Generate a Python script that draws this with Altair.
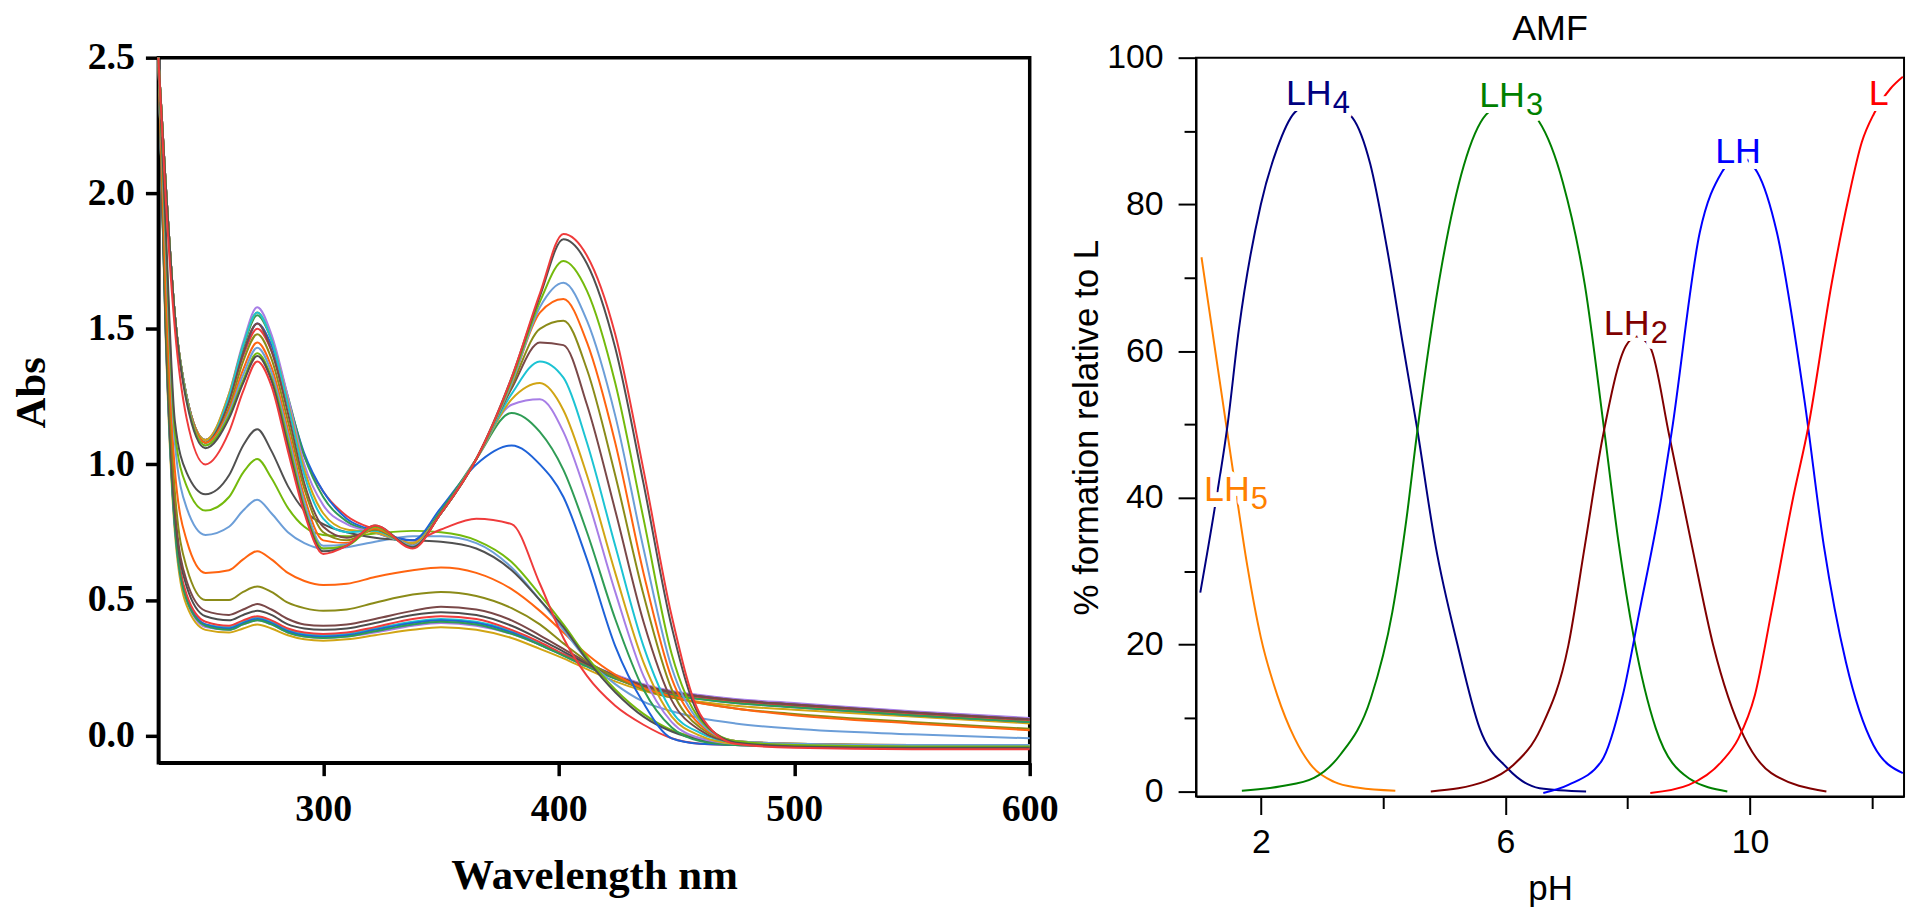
import altair as alt
import pandas as pd

# ---------------- left panel: UV-vis spectra ----------------
wavelength = [230, 233, 237, 242, 250, 260, 266, 272, 278, 285, 292, 300, 310, 322,
              338, 350, 365, 380, 392, 402, 412, 424, 436, 448, 460, 475, 500, 550, 600]

abs_01 = [2.5, 1.5, 0.75, 0.48, 0.39, 0.38, 0.395, 0.41, 0.395, 0.37, 0.355, 0.35, 0.355, 0.37, 0.39, 0.40, 0.39, 0.36, 0.32, 0.285, 0.245, 0.2, 0.165, 0.14, 0.125, 0.11, 0.095, 0.07, 0.045]
abs_02 = [2.5, 1.52, 0.77, 0.5, 0.4, 0.39, 0.41, 0.425, 0.41, 0.38, 0.365, 0.36, 0.365, 0.38, 0.405, 0.415, 0.405, 0.375, 0.335, 0.3, 0.265, 0.225, 0.19, 0.165, 0.15, 0.135, 0.12, 0.09, 0.065]
abs_03 = [2.5, 1.53, 0.78, 0.51, 0.41, 0.40, 0.42, 0.435, 0.42, 0.39, 0.375, 0.37, 0.375, 0.395, 0.42, 0.43, 0.42, 0.385, 0.34, 0.3, 0.26, 0.215, 0.18, 0.155, 0.14, 0.125, 0.11, 0.08, 0.055]
abs_04 = [2.5, 1.53, 0.78, 0.51, 0.41, 0.395, 0.415, 0.43, 0.415, 0.385, 0.37, 0.365, 0.37, 0.39, 0.415, 0.425, 0.415, 0.38, 0.335, 0.295, 0.255, 0.21, 0.175, 0.15, 0.135, 0.12, 0.105, 0.075, 0.05]
abs_05 = [2.5, 1.54, 0.79, 0.52, 0.42, 0.405, 0.425, 0.44, 0.425, 0.395, 0.38, 0.375, 0.38, 0.4, 0.43, 0.44, 0.43, 0.39, 0.345, 0.3, 0.26, 0.215, 0.18, 0.155, 0.14, 0.125, 0.11, 0.08, 0.055]
abs_06 = [2.5, 1.52, 0.77, 0.5, 0.405, 0.39, 0.41, 0.425, 0.41, 0.38, 0.365, 0.36, 0.365, 0.385, 0.41, 0.42, 0.41, 0.375, 0.335, 0.295, 0.255, 0.21, 0.175, 0.15, 0.135, 0.12, 0.105, 0.075, 0.05]
abs_07 = [2.5, 1.56, 0.82, 0.55, 0.44, 0.425, 0.445, 0.46, 0.445, 0.41, 0.395, 0.39, 0.395, 0.415, 0.445, 0.455, 0.445, 0.405, 0.355, 0.31, 0.265, 0.22, 0.185, 0.16, 0.145, 0.13, 0.115, 0.085, 0.06]
abs_08 = [2.5, 1.58, 0.84, 0.57, 0.46, 0.445, 0.465, 0.485, 0.465, 0.43, 0.41, 0.405, 0.41, 0.43, 0.46, 0.475, 0.465, 0.425, 0.37, 0.32, 0.27, 0.22, 0.185, 0.16, 0.145, 0.13, 0.115, 0.085, 0.06]
abs_09 = [2.5, 1.62, 0.9, 0.62, 0.5, 0.5, 0.53, 0.55, 0.53, 0.49, 0.47, 0.46, 0.465, 0.49, 0.52, 0.53, 0.515, 0.47, 0.41, 0.34, 0.275, 0.215, 0.17, 0.14, 0.12, 0.1, 0.08, 0.05, 0.025]
abs_10 = [2.5, 1.7, 0.98, 0.72, 0.6, 0.61, 0.65, 0.68, 0.65, 0.6, 0.57, 0.555, 0.56, 0.585, 0.61, 0.62, 0.6, 0.54, 0.46, 0.38, 0.3, 0.225, 0.175, 0.145, 0.12, 0.1, 0.075, 0.045, 0.02]
abs_11 = [2.5, 1.82, 1.08, 0.84, 0.74, 0.77, 0.83, 0.87, 0.82, 0.75, 0.71, 0.69, 0.695, 0.715, 0.735, 0.735, 0.71, 0.62, 0.5, 0.39, 0.28, 0.19, 0.125, 0.09, 0.065, 0.045, 0.025, 0.005, -0.01]
abs_12 = [2.5, 1.86, 1.12, 0.92, 0.83, 0.88, 0.97, 1.02, 0.95, 0.84, 0.77, 0.74, 0.735, 0.745, 0.755, 0.75, 0.72, 0.64, 0.52, 0.41, 0.29, 0.17, 0.08, 0.02, -0.01, -0.025, -0.03, -0.035, -0.035]
abs_13 = [2.5, 1.9, 1.16, 0.97, 0.89, 0.96, 1.07, 1.13, 1.05, 0.92, 0.83, 0.78, 0.75, 0.73, 0.72, 0.715, 0.69, 0.61, 0.5, 0.4, 0.28, 0.16, 0.07, 0.015, -0.015, -0.03, -0.035, -0.04, -0.04]
abs_14 = [2.5, 2.05, 1.55, 1.25, 1.09, 1.24, 1.4, 1.5, 1.42, 1.22, 1.03, 0.9, 0.81, 0.76, 0.72, 0.76, 0.80, 0.78, 0.56, 0.36, 0.22, 0.11, 0.04, -0.01, -0.03, -0.035, -0.04, -0.045, -0.045]
abs_15 = [2.5, 2.05, 1.55, 1.25, 1.09, 1.24, 1.41, 1.52, 1.44, 1.24, 1.04, 0.9, 0.8, 0.755, 0.72, 0.84, 1.0, 1.07, 1.0, 0.88, 0.65, 0.33, 0.12, -0.01, -0.03, -0.035, -0.04, -0.045, -0.045]
abs_16 = [2.5, 2.05, 1.55, 1.25, 1.09, 1.25, 1.43, 1.55, 1.46, 1.25, 1.03, 0.88, 0.79, 0.75, 0.71, 0.83, 1.02, 1.19, 1.12, 0.98, 0.75, 0.43, 0.17, 0.03, -0.02, -0.035, -0.04, -0.045, -0.045]
abs_17 = [2.5, 2.05, 1.55, 1.25, 1.09, 1.26, 1.45, 1.58, 1.48, 1.25, 1.0, 0.85, 0.78, 0.75, 0.71, 0.82, 1.02, 1.22, 1.24, 1.12, 0.88, 0.53, 0.22, 0.05, -0.01, -0.03, -0.035, -0.04, -0.04]
abs_18 = [2.5, 2.05, 1.55, 1.25, 1.09, 1.26, 1.44, 1.56, 1.46, 1.23, 0.98, 0.82, 0.76, 0.75, 0.71, 0.82, 1.02, 1.24, 1.3, 1.2, 0.96, 0.6, 0.27, 0.07, 0.0, -0.03, -0.035, -0.04, -0.04]
abs_19 = [2.5, 2.05, 1.55, 1.25, 1.08, 1.25, 1.44, 1.56, 1.46, 1.22, 0.96, 0.8, 0.75, 0.755, 0.70, 0.82, 1.02, 1.26, 1.38, 1.32, 1.08, 0.7, 0.33, 0.09, 0.01, -0.025, -0.035, -0.04, -0.04]
abs_20 = [2.5, 2.05, 1.55, 1.25, 1.08, 1.23, 1.41, 1.52, 1.42, 1.19, 0.93, 0.77, 0.73, 0.76, 0.70, 0.82, 1.02, 1.28, 1.45, 1.44, 1.22, 0.83, 0.42, 0.13, 0.02, -0.025, -0.035, -0.04, -0.04]
abs_21 = [2.5, 2.05, 1.55, 1.25, 1.08, 1.21, 1.38, 1.48, 1.39, 1.16, 0.91, 0.75, 0.72, 0.76, 0.70, 0.82, 1.02, 1.29, 1.5, 1.53, 1.35, 0.96, 0.52, 0.17, 0.03, -0.02, -0.03, -0.035, -0.035]
abs_22 = [2.5, 2.05, 1.55, 1.25, 1.08, 1.2, 1.35, 1.45, 1.36, 1.13, 0.88, 0.72, 0.71, 0.765, 0.70, 0.82, 1.02, 1.3, 1.56, 1.61, 1.45, 1.08, 0.6, 0.21, 0.04, -0.02, -0.03, -0.035, -0.035]
abs_23 = [2.5, 2.05, 1.55, 1.25, 1.07, 1.19, 1.33, 1.43, 1.34, 1.11, 0.86, 0.70, 0.705, 0.77, 0.70, 0.82, 1.02, 1.3, 1.58, 1.67, 1.53, 1.18, 0.69, 0.25, 0.05, -0.02, -0.03, -0.035, -0.035]
abs_24 = [2.5, 2.05, 1.55, 1.24, 1.07, 1.18, 1.31, 1.41, 1.32, 1.09, 0.84, 0.69, 0.70, 0.77, 0.695, 0.82, 1.02, 1.31, 1.6, 1.75, 1.64, 1.3, 0.8, 0.3, 0.06, -0.02, -0.035, -0.04, -0.04]
abs_25 = [2.5, 2.05, 1.55, 1.23, 1.06, 1.17, 1.3, 1.40, 1.31, 1.07, 0.83, 0.68, 0.70, 0.775, 0.695, 0.82, 1.02, 1.32, 1.62, 1.83, 1.74, 1.43, 0.93, 0.4, 0.07, -0.025, -0.04, -0.045, -0.045]
abs_26 = [2.5, 2.0, 1.5, 1.17, 1.0, 1.12, 1.27, 1.38, 1.29, 1.05, 0.82, 0.67, 0.70, 0.775, 0.69, 0.82, 1.02, 1.32, 1.63, 1.85, 1.77, 1.48, 0.98, 0.44, 0.08, -0.03, -0.045, -0.05, -0.05]

spectra = [abs_01, abs_02, abs_03, abs_04, abs_05, abs_06, abs_07, abs_08, abs_09, abs_10,
           abs_11, abs_12, abs_13, abs_14, abs_15, abs_16, abs_17, abs_18, abs_19, abs_20,
           abs_21, abs_22, abs_23, abs_24, abs_25, abs_26]

GOLD, PURPLE, CYAN, BLUE, RED = "#d1a514", "#a77ee6", "#1cc3d3", "#1e62d8", "#ef3b3b"
GREEN, GRAY, BROWN, OLIVE = "#2f9c55", "#4d4d4d", "#7a4848", "#8b8b18"
ORANGE, STEEL, YGREEN, DARK = "#ff6410", "#6c9ed8", "#74ba0c", "#505050"
spectrum_colors = [GOLD, PURPLE, CYAN, BLUE, RED, GREEN, GRAY, BROWN, OLIVE, ORANGE,
                   STEEL, YGREEN, DARK, RED, BLUE, GREEN, PURPLE, GOLD, CYAN, BROWN,
                   OLIVE, ORANGE, STEEL, YGREEN, DARK, RED]

series_ids = [f"s{i + 1:02d}" for i in range(len(spectra))]
rows = []
for sid, vals in zip(series_ids, spectra):
    assert len(vals) == len(wavelength), sid
    for w, v in zip(wavelength, vals):
        rows.append({"series": sid, "wl": w, "abs": v})
spec_df = pd.DataFrame(rows)

# ---------------- right panel: species distribution ----------------
ph_lh5 = [1.03, 1.3, 1.53, 1.78, 2.0, 2.27, 2.55, 2.85, 3.2, 3.6, 4.2]
pct_lh5 = [72.8, 57.5, 44.5, 30.7, 21.0, 13.1, 7.3, 3.3, 1.3, 0.5, 0.1]
ph_lh4 = [1.01, 1.24, 1.46, 1.64, 2.0, 2.27, 2.55, 3.0, 3.5, 3.79, 4.06, 4.33, 4.55, 4.86, 5.22, 5.58, 6.03, 6.56, 7.32]
pct_lh4 = [27.1, 38.3, 50.2, 62.9, 80.0, 87.7, 92.5, 94.5, 91.8, 85.5, 74.2, 60.6, 49.8, 33.4, 19.9, 8.6, 3.2, 0.45, 0.0]
ph_lh3 = [1.69, 2.33, 2.87, 3.3, 3.8, 4.15, 4.38, 4.55, 4.96, 5.32, 5.68, 6.1, 6.55, 6.94, 7.3, 7.62, 7.85, 8.1, 8.46, 9.0, 9.63]
pct_lh3 = [0.1, 0.7, 1.85, 5.0, 12.7, 24.4, 37.0, 48.5, 71.7, 85.3, 92.2, 94.2, 91.3, 83.0, 69.0, 49.0, 34.0, 21.0, 8.6, 1.8, 0.0]
ph_lh2 = [4.78, 5.68, 6.13, 6.58, 7.03, 7.3, 7.59, 7.97, 8.15, 8.37, 8.68, 9.05, 9.4, 9.9, 10.35, 11.25]
pct_lh2 = [0.0, 1.4, 3.6, 8.6, 19.9, 33.5, 48.2, 60.7, 62.0, 60.5, 48.5, 33.5, 19.9, 7.5, 2.5, 0.0]
ph_lh = [6.62, 7.03, 7.57, 7.92, 8.19, 8.55, 8.72, 9.18, 9.54, 9.83, 10.12, 10.44, 10.89, 11.21, 11.57, 12.02, 12.5]
pct_lh = [-0.2, 0.9, 4.1, 13.1, 24.4, 40.0, 49.0, 76.2, 84.4, 86.5, 84.4, 76.2, 53.4, 33.4, 17.6, 6.3, 2.5]
ph_l = [8.37, 9.0, 9.54, 9.81, 10.08, 10.35, 10.71, 10.95, 11.34, 11.61, 11.83, 12.03, 12.3, 12.5]
pct_l = [-0.2, 0.9, 4.1, 7.2, 13.1, 24.4, 40.2, 49.5, 69.4, 80.8, 88.5, 92.4, 95.8, 97.4]

species_names = ["LH5", "LH4", "LH3", "LH2", "LH", "L"]
species_colors = ["#ff8000", "#000080", "#008000", "#800000", "#0000ff", "#ff0000"]
species_ph = [ph_lh5, ph_lh4, ph_lh3, ph_lh2, ph_lh, ph_l]
species_pct = [pct_lh5, pct_lh4, pct_lh3, pct_lh2, pct_lh, pct_l]

# label anchors (pH, % at baseline) for the species names
label_ph = [1.82, 3.16, 6.32, 8.36, 10.18, 12.27]
label_pct = [39.6, 93.5, 93.3, 62.2, 85.6, 93.6]

srows = []
for name, xs, ys in zip(species_names, species_ph, species_pct):
    assert len(xs) == len(ys), name
    for x, y in zip(xs, ys):
        srows.append({"species": name, "ph": x, "pct": y})
species_df = pd.DataFrame(srows)

lrows = []
for name, x, y in zip(species_names, label_ph, label_pct):
    main = name.rstrip("0123456789")
    sub = name[len(main):]
    lrows.append({"species": name, "ph": x, "pct": y, "main": main, "sub": sub})
label_df = pd.DataFrame(lrows)

SERIF = "Liberation Serif, Times New Roman, serif"
SANS = "Liberation Sans, Arial, Helvetica, sans-serif"

# ---------------- left chart ----------------
left = alt.Chart(spec_df).mark_line(strokeWidth=2, interpolate="monotone").encode(
    x=alt.X("wl:Q",
            scale=alt.Scale(domain=[230, 600], nice=False, zero=False),
            axis=alt.Axis(values=[300, 400, 500, 600], format="d", grid=False,
                          tickSize=13, tickWidth=3.5, tickColor="black",
                          domainWidth=3.5, domainColor="black",
                          labelFont=SERIF, labelFontSize=38, labelFontWeight="bold",
                          labelColor="black", labelPadding=15, labelFlush=False,
                          title="Wavelength nm", titleFont=SERIF, titleFontSize=43,
                          titleFontWeight="bold", titleColor="black", titlePadding=26)),
    y=alt.Y("abs:Q",
            scale=alt.Scale(domain=[-0.1, 2.5], nice=False, zero=False),
            axis=alt.Axis(values=[0, 0.5, 1, 1.5, 2, 2.5], format=".1f", grid=False,
                          tickSize=13, tickWidth=3.5, tickColor="black",
                          domainWidth=3.5, domainColor="black",
                          labelFont=SERIF, labelFontSize=38, labelFontWeight="bold",
                          labelColor="black", labelPadding=11, labelFlush=False,
                          title="Abs", titleFont=SERIF, titleFontSize=43,
                          titleFontWeight="bold", titleColor="black", titlePadding=34,
                          titleY=336)),
    color=alt.Color("series:N", scale=alt.Scale(domain=series_ids, range=spectrum_colors),
                    legend=None),
).properties(width=875, height=708,
             view=alt.ViewBackground(stroke="black", strokeWidth=3.5))

# ---------------- right chart ----------------
cscale = alt.Scale(domain=species_names, range=species_colors)

x_right = alt.X("ph:Q",
                scale=alt.Scale(domain=[0.94, 12.52], nice=False, zero=False),
                axis=alt.Axis(values=[2, 4, 6, 8, 10, 12], format="d", grid=False,
                              labelExpr="datum.value % 4 == 2 ? datum.label : ''",
                              tickSize={"condition": {"test": "datum.value % 4 == 2", "value": 18}, "value": 12},
                              tickWidth=2, tickColor="black",
                              domainWidth=2, domainColor="black",
                              labelFont=SANS, labelFontSize=34, labelColor="black",
                              labelPadding=11, labelFlush=False,
                              title="pH", titleFont=SANS, titleFontSize=35,
                              titleFontWeight="normal", titleColor="black", titlePadding=12))
y_right = alt.Y("pct:Q",
                scale=alt.Scale(domain=[-0.7, 100], nice=False, zero=False),
                axis=alt.Axis(values=list(range(0, 101, 10)), format="d", grid=False,
                              labelExpr="datum.value % 20 == 0 ? datum.label : ''",
                              tickSize={"condition": {"test": "datum.value % 20 == 0", "value": 18}, "value": 12},
                              tickWidth=2, tickColor="black",
                              domainWidth=2, domainColor="black",
                              labelFont=SANS, labelFontSize=34, labelColor="black",
                              labelPadding=15, labelFlush=False,
                              title="% formation relative to L", titleFont=SANS,
                              titleFontSize=35, titleFontWeight="normal",
                              titleColor="black", titlePadding=2))

lines = alt.Chart(species_df).mark_line(strokeWidth=2, interpolate="monotone").encode(
    x=x_right, y=y_right,
    color=alt.Color("species:N", scale=cscale, legend=None),
)

halo_main = alt.Chart(label_df).mark_text(
    align="right", baseline="alphabetic", font=SANS, fontSize=36,
    color="white", stroke="white", strokeWidth=12, strokeJoin="round",
).encode(x="ph:Q", y="pct:Q", text="main:N")

halo_sub = alt.Chart(label_df).mark_text(
    align="left", baseline="alphabetic", font=SANS, fontSize=31, dx=1, dy=8,
    color="white", stroke="white", strokeWidth=12, strokeJoin="round",
).encode(x="ph:Q", y="pct:Q", text="sub:N")

text_main = alt.Chart(label_df).mark_text(
    align="right", baseline="alphabetic", font=SANS, fontSize=36,
).encode(x="ph:Q", y="pct:Q", text="main:N",
         color=alt.Color("species:N", scale=cscale, legend=None))

text_sub = alt.Chart(label_df).mark_text(
    align="left", baseline="alphabetic", font=SANS, fontSize=31, dx=1, dy=8,
).encode(x="ph:Q", y="pct:Q", text="sub:N",
         color=alt.Color("species:N", scale=cscale, legend=None))

right = alt.layer(lines, halo_main, halo_sub, text_main, text_sub).properties(
    width=711, height=742,
    view=alt.ViewBackground(stroke="black", strokeWidth=2),
    title=alt.TitleParams(text="AMF", font=SANS, fontSize=36, fontWeight="normal",
                          color="black", anchor="middle", offset=-7),
)

chart = alt.hconcat(left, right, spacing=167, bounds="flush").resolve_scale(
    color="independent"
).properties(
    padding={"left": 0, "top": 0, "right": 4, "bottom": 0},
).configure_view(stroke=None)

chart.save("out.html", embed_options={"renderer": "svg", "actions": False})
